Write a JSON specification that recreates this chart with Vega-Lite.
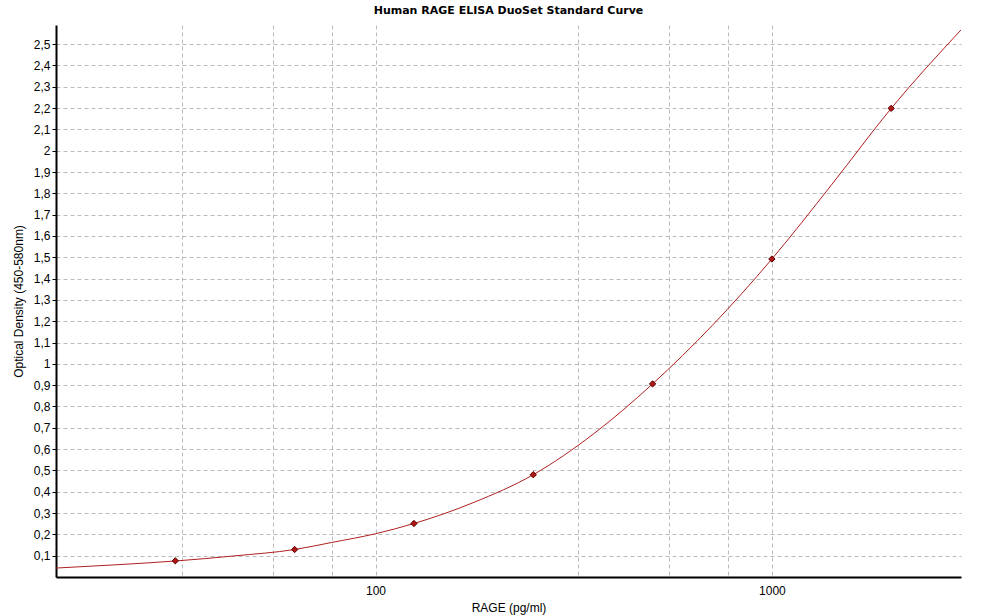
{
  "$schema": "https://vega.github.io/schema/vega-lite/v6.json",
  "autosize": {"type": "none"},
  "padding": {"left": 56, "top": 25, "right": 22, "bottom": 38},
  "width": 905,
  "height": 552,
  "background": "white",
  "title": {
    "text": "Human RAGE ELISA DuoSet Standard Curve",
    "font": "DejaVu Sans",
    "fontSize": 11,
    "fontWeight": "bold",
    "color": "#000000",
    "offset": 9,
    "anchor": "middle"
  },
  "datasets": {
    "curve": [
      {"conc": 15.625, "od": 0.042},
      {"conc": 22, "od": 0.057},
      {"conc": 31.25, "od": 0.075},
      {"conc": 44, "od": 0.099},
      {"conc": 62.5, "od": 0.129},
      {"conc": 77.5, "od": 0.162},
      {"conc": 100, "od": 0.203},
      {"conc": 125, "od": 0.251},
      {"conc": 177, "od": 0.35},
      {"conc": 250, "od": 0.48},
      {"conc": 354, "od": 0.67},
      {"conc": 500, "od": 0.906},
      {"conc": 707, "od": 1.18},
      {"conc": 1000, "od": 1.492},
      {"conc": 1414, "od": 1.84},
      {"conc": 2000, "od": 2.199},
      {"conc": 3000, "od": 2.567}
    ],
    "standards": [
      {"conc": 31.25, "od": 0.076},
      {"conc": 62.5, "od": 0.129},
      {"conc": 125, "od": 0.251},
      {"conc": 250, "od": 0.48},
      {"conc": 500, "od": 0.906},
      {"conc": 1000, "od": 1.492},
      {"conc": 2000, "od": 2.199}
    ]
  },
  "config": {
    "view": {"stroke": null},
    "axis": {
      "labelFont": "Liberation Sans",
      "labelFontSize": 12,
      "labelColor": "#000000",
      "titleFont": "Liberation Sans",
      "titleFontSize": 12,
      "titleFontWeight": "normal",
      "titleColor": "#000000",
      "domainColor": "#000000",
      "domainWidth": 2,
      "gridColor": "#bbbbbb",
      "gridDash": [4, 3],
      "gridWidth": 1,
      "tickColor": "#888888",
      "labelOverlap": false,
      "labelBound": false
    }
  },
  "layer": [
    {
      "data": {"name": "curve"},
      "mark": {"type": "line", "color": "#b02020", "strokeWidth": 1, "interpolate": "monotone", "clip": true},
      "encoding": {
        "x": {
          "field": "conc",
          "type": "quantitative",
          "scale": {"type": "log", "domain": [15.625, 3000], "nice": false},
          "axis": {
            "title": "RAGE (pg/ml)",
            "titlePadding": 6,
            "tickCount": 40,
            "values": [32.5, 55, 77.5, 100, 325, 550, 775, 1000],
            "labelExpr": "(datum.value == 100 || datum.value == 1000) ? datum.value : ''",
            "ticks": false,
            "labelPadding": 8,
            "grid": true
          }
        },
        "y": {
          "field": "od",
          "type": "quantitative",
          "scale": {"domain": [0, 2.59], "nice": false, "zero": true},
          "axis": {
            "title": "Optical Density (450-580nm)",
            "titlePadding": 8,
            "tickCount": 40,
            "values": [0.1, 0.2, 0.3, 0.4, 0.5, 0.6, 0.7, 0.8, 0.9, 1, 1.1, 1.2, 1.3, 1.4, 1.5, 1.6, 1.7, 1.8, 1.9, 2, 2.1, 2.2, 2.3, 2.4, 2.5],
            "labelExpr": "replace(format(datum.value, '.2~f'), '.', ',')",
            "tickSize": 4,
            "tickColor": "#000000",
            "labelPadding": 2,
            "grid": true
          }
        }
      }
    },
    {
      "data": {"name": "standards"},
      "mark": {"type": "point", "shape": "diamond", "filled": true, "size": 40, "color": "#b01818", "stroke": "#5a0000", "strokeWidth": 1, "opacity": 1},
      "encoding": {
        "x": {"field": "conc", "type": "quantitative"},
        "y": {"field": "od", "type": "quantitative"}
      }
    }
  ]
}
